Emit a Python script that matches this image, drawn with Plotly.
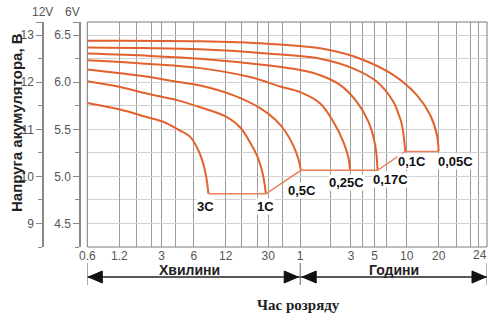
import math
import plotly.graph_objects as go

# ---------------- data ----------------
X_TICK_MIN = [0.6, 1.2, 3, 6, 12, 30, 60, 180, 300, 600, 1200, 1440]
X_TICK_TEXT = ["0.6", "1.2", "3", "6", "12", "30", "1", "3", "5", "10", "20", "24"]
X_GRID_MIN = [1.75, 2.4, 4, 17, 24, 41, 115, 233, 385, 1290, 1358, 1399]

Y12_TICKS = [9, 10, 11, 12, 13]
Y6_TICKS = [4.5, 5.0, 5.5, 6.0, 6.5]
Y12_RANGE = [8.5, 13.28]

RATES = ["3C", "1C", "0,5C", "0,25C", "0,17C", "0,1C", "0,05C"]

T_3C = [0.6, 1.22, 2.17, 3.11, 4.16, 5.55, 6.64, 7.51, 7.96, 8.24]
V_3C = [11.56, 11.42, 11.26, 11.16, 11.01, 10.84, 10.55, 10.20, 9.91, 9.63]

T_1C = [0.6, 1.22, 2.17, 4.16, 6.89, 11.8, 16.4, 20.3, 24.2, 26.9, 28.6]
V_1C = [12.02, 11.90, 11.76, 11.62, 11.47, 11.28, 11.04, 10.72, 10.38, 10.02, 9.63]

T_05C = [0.6, 1.22, 2.33, 4.16, 6.89, 14.2, 25.2, 34.9, 43.4, 51.6, 57.5, 60.9]
V_05C = [12.27, 12.19, 12.11, 12.01, 11.93, 11.72, 11.45, 11.21, 10.96, 10.66, 10.38, 10.13]

T_025C = [0.6, 2.33, 6.89, 20.3, 38.9, 60, 92.5, 123, 153, 171, 176]
V_025C = [12.47, 12.39, 12.30, 12.11, 11.91, 11.79, 11.55, 11.16, 10.73, 10.38, 10.13]

T_017C = [0.6, 2.33, 6.89, 29.2, 60, 92.5, 143, 205, 263, 304, 320]
V_017C = [12.61, 12.56, 12.50, 12.36, 12.26, 12.15, 11.94, 11.58, 11.16, 10.66, 10.13]

T_01C = [0.6, 6.89, 29.2, 92.5, 190, 316, 452, 501, 543, 583]
V_01C = [12.74, 12.70, 12.61, 12.50, 12.29, 12.01, 11.58, 11.34, 11.09, 10.53]

T_005C = [0.6, 6.89, 29.2, 92.5, 220, 452, 751, 1001, 1158, 1198]
V_005C = [12.88, 12.87, 12.82, 12.72, 12.50, 12.15, 11.72, 11.30, 10.87, 10.53]

SERIES_T = [T_3C, T_1C, T_05C, T_025C, T_017C, T_01C, T_005C]
SERIES_V = [V_3C, V_1C, V_05C, V_025C, V_017C, V_01C, V_005C]

# ---------------- scale ----------------
LOG_END = 3.533  # axis end (position of the "24" hours tick)


def pos(m):
    if m <= 1200:
        return math.log10(m)
    return math.log10(1200) + (m - 1200) / 240 * (LOG_END - math.log10(1200))


X_START = pos(X_TICK_MIN[0])
X_END = pos(X_TICK_MIN[-1])

# ---------------- styles ----------------
SANS = "Liberation Sans, Arial, sans-serif"
SERIF = "Liberation Serif, Times New Roman, serif"
CURVE_COLOR = "#e2612c"
LINK_COLOR = "#e88058"
LABEL_SHIFTS = [(-3, -13), (0, -13), (1, -20), (-3, -12), (13, -9), (7, -10), (17, -10)]

fig = go.Figure()

for name, ts, vs in zip(RATES, SERIES_T, SERIES_V):
    fig.add_trace(go.Scatter(
        x=[pos(t) for t in ts], y=vs, mode="lines", name=name,
        line=dict(color=CURVE_COLOR, width=2, shape="spline", smoothing=1.0),
        hoverinfo="skip", showlegend=False))

END_T = [ts[-1] for ts in SERIES_T]
END_V = [vs[-1] for vs in SERIES_V]
fig.add_trace(go.Scatter(
    x=[pos(t) for t in END_T], y=END_V, mode="lines",
    line=dict(color=LINK_COLOR, width=1.5), hoverinfo="skip", showlegend=False))

# dummy trace to activate the 6V axis
fig.add_trace(go.Scatter(x=[X_START], y=[Y6_TICKS[0]], yaxis="y2", mode="markers",
                         marker=dict(opacity=0), hoverinfo="skip", showlegend=False))

for (name, t, v, (dx, dy)) in zip(RATES, END_T, END_V, LABEL_SHIFTS):
    fig.add_annotation(x=pos(t), y=v, text=f"<b>{name}</b>", showarrow=False,
                       xanchor="center", yanchor="middle",
                       xshift=dx, yshift=dy, bgcolor="white", borderpad=0,
                       font=dict(family=SANS, size=13, color="#111"))

# ---------------- layout ----------------
L, R, T, B = 30, 1, 22, 77
W, H = 488, 324
PW = W - L - R
PH = H - T - B


def px_x(x):
    return (x - L) / PW


def px_y(y):
    return 1 - (y - T) / PH


Y6_RANGE = [v / 2 for v in Y12_RANGE]

# the last tick label sits at the right edge; it is drawn as an annotation shifted inwards
TICK_TEXT_AXIS = X_TICK_TEXT[:-1] + [""]

fig.update_layout(
    template="none",
    width=W, height=H, margin=dict(l=L, r=R, t=T, b=B, autoexpand=False),
    paper_bgcolor="white", plot_bgcolor="white",
    font=dict(family=SANS, size=12, color="#555"),
    xaxis=dict(
        automargin=False, ticklabeloverflow="allow",
        domain=[px_x(87.3), 1], range=[X_START, X_END],
        tickmode="array", tickvals=[pos(m) for m in X_TICK_MIN], ticktext=TICK_TEXT_AXIS,
        ticks="", showgrid=True, gridcolor="#9c9c9c", gridwidth=1,
        minor=dict(tickmode="array", tickvals=[pos(m) for m in X_GRID_MIN],
                   showgrid=True, gridcolor="#9c9c9c", ticks=""),
        zeroline=False, showline=False, tickfont=dict(size=12, color="#555"),
    ),
    yaxis=dict(
        automargin=False,
        anchor="free", position=px_x(43), range=Y12_RANGE,
        tickmode="array", tickvals=Y12_TICKS + [Y12_RANGE[1]],
        ticktext=[str(v) for v in Y12_TICKS] + [""],
        ticks="outside", ticklen=6, tickcolor="#888", tickwidth=1.3,
        showline=True, linecolor="#888", linewidth=1.5,
        showgrid=True, gridcolor="#d2d2d2",
        minor=dict(tick0=8.5, dtick=0.5, ticks="outside", ticklen=4,
                   tickcolor="#888", showgrid=True, gridcolor="#d2d2d2"),
        zeroline=False, tickfont=dict(size=12, color="#555"),
    ),
    yaxis2=dict(
        automargin=False,
        overlaying="y", anchor="free", position=px_x(80), range=Y6_RANGE,
        tickmode="array", tickvals=Y6_TICKS + [Y6_RANGE[1]],
        ticktext=[f"{v:.1f}" for v in Y6_TICKS] + [""],
        ticks="outside", ticklen=6, tickcolor="#888", tickwidth=1.3,
        showline=True, linecolor="#888", linewidth=1.5, showgrid=False,
        minor=dict(tick0=4.25, dtick=0.25, ticks="outside", ticklen=4, tickcolor="#888"),
        zeroline=False, tickfont=dict(size=12, color="#555"),
    ),
)

# plot frame
fig.add_shape(type="rect", xref="x domain", yref="y domain", x0=0, x1=1, y0=0, y1=1,
              line=dict(color="#7a7a7a", width=1), layer="above")

# time arrows
ROW = px_y(277)
SEP0, SEP1 = px_y(263), px_y(285)
MID = pos(60)
for xa, xb in [(X_START, MID), (MID, X_END)]:
    fig.add_shape(type="line", xref="x", yref="paper", x0=xa, x1=xb, y0=ROW, y1=ROW,
                  line=dict(color="#222", width=1.5))
for xs in [X_START, MID, X_END]:
    fig.add_shape(type="line", xref="x", yref="paper", x0=xs, x1=xs, y0=SEP0, y1=SEP1,
                  line=dict(color="#666", width=1))
for xs, path in [(X_START, "M1,0 L15,6 L15,-6 Z"), (MID, "M-2,0 L-16,6 L-16,-6 Z"),
                 (MID, "M2,0 L16,6 L16,-6 Z"), (X_END, "M-1,0 L-15,6 L-15,-6 Z")]:
    fig.add_shape(type="path", xref="x", yref="paper", xsizemode="pixel", ysizemode="pixel",
                  xanchor=xs, yanchor=ROW, path=path,
                  fillcolor="#111", line=dict(color="#111", width=1))


def label(x, y, text, xref="paper", size=12, color="#555", family=SANS, angle=0, xshift=0):
    fig.add_annotation(x=x, y=y, xref=xref, yref="paper", text=text, showarrow=False,
                       xanchor="center", yanchor="middle", textangle=angle, xshift=xshift,
                       borderpad=0, font=dict(family=family, size=size, color=color))


label(X_END, px_y(255), X_TICK_TEXT[-1], xref="x", xshift=-7)
label((X_START + MID) / 2, px_y(270), "<b>Хвилини</b>", xref="x", size=14, color="#222", xshift=-4)
label((MID + X_END) / 2, px_y(270), "<b>Години</b>", xref="x", size=14, color="#222")
label(px_x(298), px_y(305), "<b>Час розряду</b>", size=15, color="#222", family=SERIF)
label(px_x(42), px_y(12), "12V")
label(px_x(72), px_y(12), "6V")
label(px_x(16), px_y(123), "<b>Напруга акумулятора, В</b>", size=15, color="#222", angle=-90)

fig.write_html("out.html", config={"displayModeBar": False},
               post_script="document.body.style.margin='0';")
